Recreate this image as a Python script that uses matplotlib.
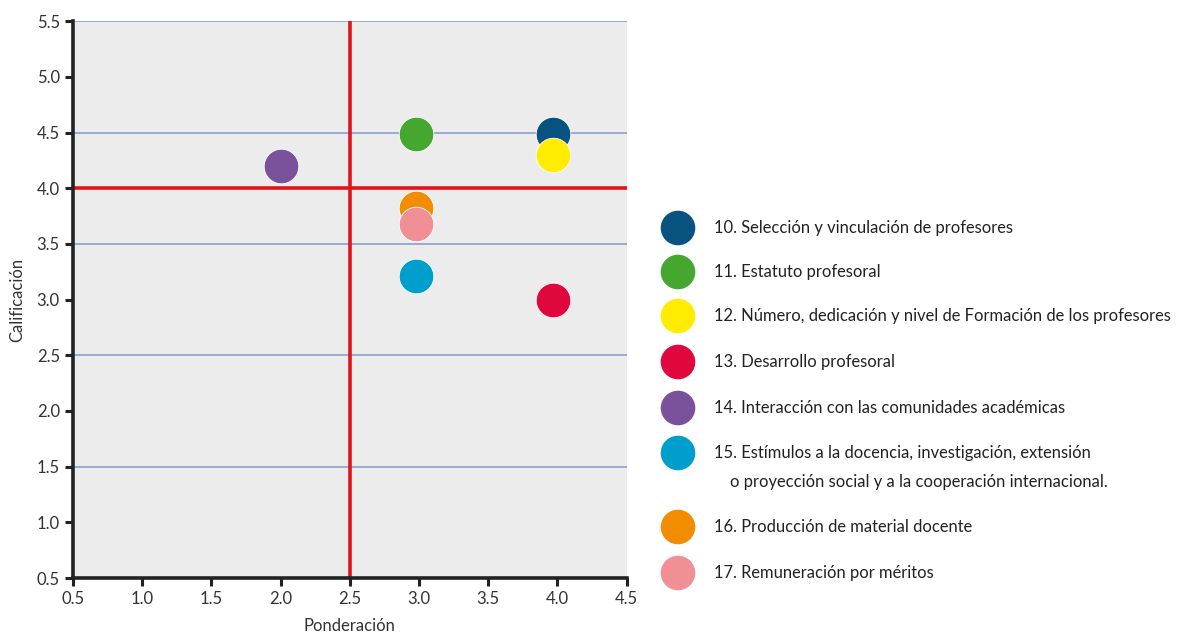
import matplotlib.pyplot as plt

# data
labels = ['10. Selección y vinculación de profesores',
          '11. Estatuto profesoral',
          '12. Número, dedicación y nivel de Formación de los profesores',
          '13. Desarrollo profesoral',
          '14. Interacción con las comunidades académicas',
          '15. Estímulos a la docencia, investigación, extensión',
          '16. Producción de material docente',
          '17. Remuneración por méritos']
label15_cont = 'o proyección social y a la cooperación internacional.'
ponderacion = [3.97, 2.98, 3.97, 3.97, 2.0, 2.98, 2.98, 2.98]
calificacion = [4.49, 4.49, 4.30, 3.00, 4.20, 3.21, 3.82, 3.68]
colors = ['#08527f', '#45a630', '#ffec00', '#e0063e', '#7a529c', '#009ecd', '#f28c00', '#f09095']
ticks = [0.5, 1.0, 1.5, 2.0, 2.5, 3.0, 3.5, 4.0, 4.5]
yticks = [0.5, 1.0, 1.5, 2.0, 2.5, 3.0, 3.5, 4.0, 4.5, 5.0, 5.5]

plt.rcParams['font.family'] = ['Lato', 'DejaVu Sans']

fig = plt.figure(figsize=(11.78, 6.37), dpi=100)
ax = fig.add_axes([0.062, 0.0926, 0.470, 0.874])
ax.set_facecolor('#ececec')
ax.set_xlim(0.5, 4.5)
ax.set_ylim(0.5, 5.5)

for y in [1.5, 2.5, 3.5, 4.5, 5.5]:
    ax.axhline(y, color='#8c9ed0', lw=1.2, zorder=1)
ax.axhline(4.0, color='#e2141b', lw=2.6, zorder=2)
ax.axvline(2.5, color='#e2141b', lw=2.6, zorder=2)

for i in range(len(labels)):
    ax.scatter(ponderacion[i], calificacion[i], s=620, color=colors[i],
               edgecolors='white', linewidths=0.6, zorder=3 + i)

ax.set_xticks(ticks)
ax.set_yticks(yticks)
ax.set_xticklabels(['%.1f' % t for t in ticks])
ax.set_yticklabels(['%.1f' % t for t in yticks])
ax.tick_params(direction='out', length=6, width=2.2, color='#222222',
               labelsize=12, labelcolor='#333333')
for s in ['top', 'right']:
    ax.spines[s].set_visible(False)
for s in ['left', 'bottom']:
    ax.spines[s].set_linewidth(2.6)
    ax.spines[s].set_color('#222222')
ax.set_xlabel('Ponderación', fontsize=12, color='#333333', labelpad=8)
ax.set_ylabel('Calificación', fontsize=12, color='#333333', labelpad=8)

# legend drawn by hand
lg = fig.add_axes([0, 0, 1, 1], facecolor='none')
lg.set_xlim(0, 1178)
lg.set_ylim(637, 0)
lg.axis('off')
rows = [228, 272, 316, 362, 408, 453, 527, 573]
for i in range(len(labels)):
    lg.scatter(678, rows[i], s=620, color=colors[i], edgecolors='none')
    lg.text(714, rows[i], labels[i], fontsize=11.9, color='#222222', va='center')
lg.text(730, rows[5] + 29, label15_cont, fontsize=11.9, color='#222222', va='center')

fig.savefig('out.png', dpi=100)
